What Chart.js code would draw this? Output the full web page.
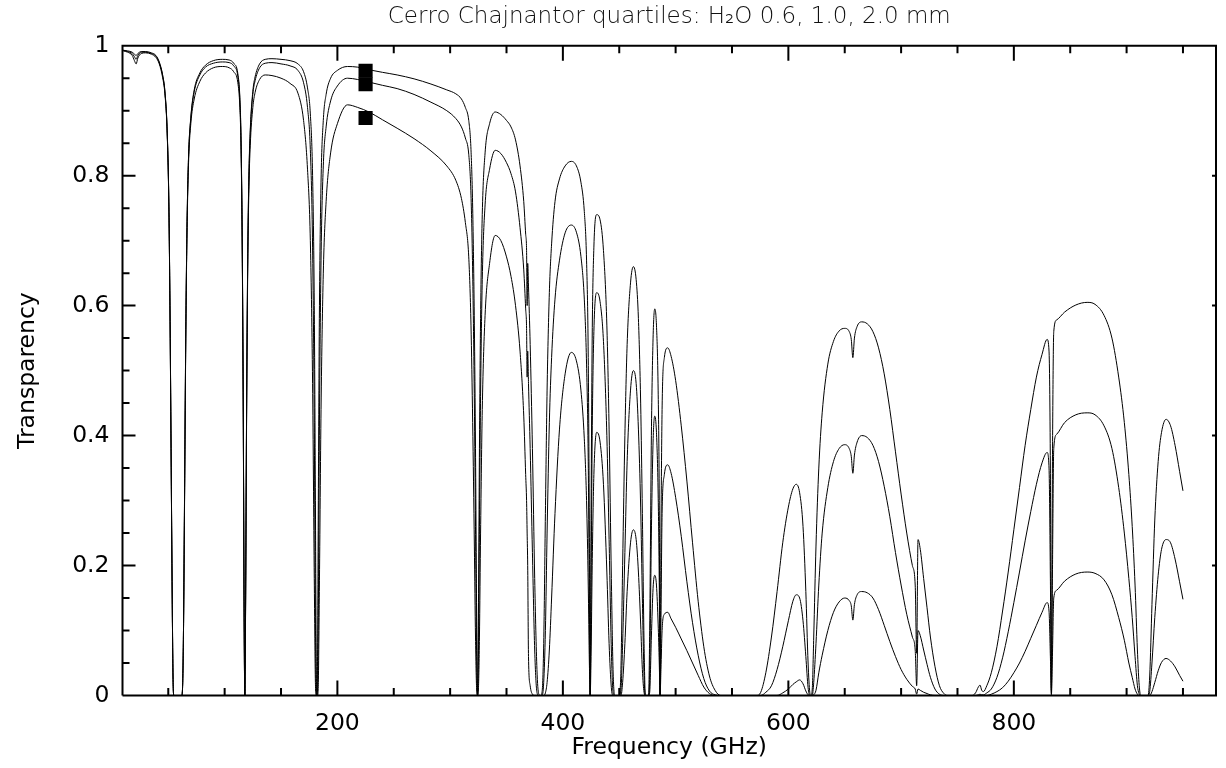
<!DOCTYPE html>
<html><head><meta charset="utf-8">
<script src="https://cdn.jsdelivr.net/npm/chart.js@4.4.1/dist/chart.umd.min.js"></script>
<style>html,body{margin:0;padding:0;background:#fff;} canvas{display:block;}</style>
</head><body>
<canvas id="c" width="1226" height="768"></canvas>
<script>
const titleText = 'Cerro Chajnantor quartiles: H\u2082O 0.6, 1.0, 2.0 mm';
const xTitle = 'Frequency (GHz)';
const yTitle = 'Transparency';
const xTickValues = [200, 400, 600, 800];
const xTickLabels = ['200', '400', '600', '800'];
const yTickValues = [0, 0.2, 0.4, 0.6, 0.8, 1];
const yTickLabels = ['0', '0.2', '0.4', '0.6', '0.8', '1'];

const freq = [
  10, 14, 18, 20, 21.5, 23, 26, 30, 35, 39,
  42, 45, 47, 49, 50.5, 51.5, 52.5, 53.5, 54.3, 55,
  62, 62.8, 63.5, 64.5, 65.5, 66.6, 68, 70, 73, 78,
  83, 90, 98, 104, 108, 111.7, 113.5, 114.5, 115.5, 116.5,
  117.3, 117.9, 118.5, 119.5, 120.5, 121.5, 122.7, 125, 127, 131,
  136, 142, 150, 158, 165, 170, 173.5, 176, 178, 179.5,
  180.5, 181.2, 181.8, 182.4, 183.1, 184, 185.5, 187.5, 190, 194,
  200, 209, 218, 228, 240, 253, 268, 283, 297, 305,
  310, 313.5, 316.5, 318.5, 320, 321.5, 322.5, 323.5, 324.3, 325.1,
  326, 327, 328.5, 331, 335, 340, 345, 350, 354, 358,
  362, 365.3, 367, 367.8, 368.3, 368.8, 369.5, 371, 373, 375,
  377, 378.5, 380, 381.5, 383, 384.5, 386, 388, 390, 393,
  397, 402, 407.5, 412, 416, 419, 421, 422.5, 423.5, 424.2,
  425, 426, 427.5, 430, 433, 436, 439, 441, 443, 444.5,
  446, 450, 451.5, 453, 455, 457, 460, 462.5, 465, 467,
  469, 470.5, 472, 473.2, 476, 477, 478.5, 480, 481.5, 483,
  484.5, 485.5, 486.2, 487, 488, 490, 493, 496, 500, 505,
  510, 515, 520, 525, 530, 535, 540, 572, 575.5, 580,
  585, 590, 595, 600, 604, 607, 610, 613, 615.5, 617.5,
  619, 620, 621.2, 622.5, 624.5, 627, 630, 635, 640, 645,
  650, 654, 655.8, 657.2, 658.6, 661, 665, 670, 675, 680,
  685, 690, 695, 700, 705, 710, 712.5, 713.8, 715, 717,
  720, 723, 726, 730, 734, 738, 741, 763, 766, 768.5,
  770, 771.5, 773, 776, 780, 785, 790, 795, 800, 805,
  810, 815, 820, 825, 829.5, 831.2, 832.4, 833.3, 834.2, 835.4,
  838, 845, 855, 865, 872, 880, 887, 893, 898, 902,
  905, 907.5, 909.6, 911, 912.5, 919, 920.5, 922.5, 925, 928,
  931, 935, 939, 943, 947, 950
];
const trans06 = [
  .993, .992, .990, .987, .985, .988, .991, .991, .989, .985,
  .975, .955, .930, .870, .760, .600, .380, .150, .020, 0,
  0, .02, .10, .32, .55, .72, .83, .89, .932, .958,
  .970, .977, .979, .978, .973, .957, .920, .860, .720, .450,
  .12, 0, .12, .45, .68, .80, .87, .93, .952, .972,
  .979, .980, .979, .977, .972, .960, .935, .895, .80, .60,
  .30, .06, 0, .06, .30, .58, .79, .885, .925, .95,
  .962, .968, .967, .963, .959, .955, .949, .941, .932, .926,
  .918, .905, .885, .84, .75, .57, .38, .13, 0, .13,
  .38, .58, .74, .835, .88, .898, .894, .885, .875, .855,
  .815, .76, .71, .685, .60, .665, .63, .54, .38, .18,
  .04, .003, 0, .005, .08, .28, .47, .62, .695, .76,
  .795, .815, .822, .815, .79, .745, .67, .52, .25, 0,
  .28, .55, .69, .74, .732, .685, .57, .41, .18, .04,
  0, 0, .04, .20, .40, .54, .635, .66, .64, .58,
  .45, .28, .08, 0, 0, .10, .40, .55, .595, .57,
  .47, .30, 0, .25, .44, .52, .535, .522, .485, .415,
  .33, .235, .145, .075, .03, .008, 0, 0, .005, .035,
  .09, .16, .235, .29, .318, .325, .312, .26, .16, .05,
  .005, 0, .01, .09, .23, .35, .435, .51, .545, .561,
  .565, .56, .548, .52, .55, .568, .575, .572, .56, .535,
  .495, .44, .375, .31, .25, .20, .17, .065, .24, .225,
  .18, .135, .09, .045, .015, .003, 0, 0, .004, .013,
  .016, .008, .006, .015, .035, .075, .13, .19, .255, .32,
  .385, .44, .49, .525, .548, .53, .35, .008, .35, .56,
  .578, .59, .601, .605, .602, .585, .55, .49, .42, .34,
  .26, .17, .07, .02, 0, 0, .03, .14, .27, .36,
  .405, .425, .415, .385, .345, .315
];
const trans10 = [
  .993, .991, .988, .983, .979, .985, .990, .990, .988, .984,
  .974, .954, .929, .869, .759, .600, .380, .150, .020, 0,
  0, .02, .10, .32, .55, .72, .83, .888, .929, .955,
  .967, .973, .975, .974, .969, .953, .916, .856, .716, .445,
  .118, 0, .118, .445, .676, .795, .865, .925, .946, .966,
  .973, .974, .972, .969, .962, .943, .905, .84, .69, .42,
  .12, .01, 0, .01, .12, .40, .67, .815, .875, .915,
  .938, .95, .948, .944, .939, .934, .925, .913, .90, .888,
  .875, .858, .833, .77, .65, .45, .26, .06, 0, .06,
  .26, .46, .64, .755, .81, .839, .834, .82, .803, .775,
  .72, .655, .595, .565, .49, .53, .48, .38, .22, .07,
  .005, 0, 0, 0, .02, .10, .25, .42, .52, .61,
  .67, .712, .724, .713, .676, .61, .51, .36, .14, 0,
  .16, .40, .56, .62, .606, .545, .40, .24, .07, .005,
  0, 0, .008, .08, .22, .36, .47, .50, .48, .41,
  .29, .15, .03, 0, 0, .03, .25, .39, .43, .405,
  .31, .17, 0, .12, .28, .34, .355, .342, .305, .245,
  .175, .112, .062, .026, .007, .001, 0, 0, 0, .005,
  .015, .04, .075, .115, .145, .155, .15, .115, .06, .012,
  0, 0, 0, .02, .08, .17, .25, .32, .36, .38,
  .386, .38, .368, .342, .37, .39, .40, .397, .385, .36,
  .322, .275, .22, .17, .125, .09, .07, .015, .10, .092,
  .07, .048, .028, .01, .002, 0, 0, 0, 0, .001,
  .002, .001, .001, .004, .01, .028, .058, .098, .143, .19,
  .238, .283, .325, .358, .374, .35, .18, .003, .18, .38,
  .402, .42, .432, .435, .432, .415, .38, .32, .25, .18,
  .12, .06, .015, .003, 0, 0, .006, .05, .12, .185,
  .225, .24, .235, .21, .175, .148
];
const trans20 = [
  .992, .990, .985, .977, .972, .981, .988, .989, .987, .982,
  .972, .951, .926, .866, .755, .595, .375, .148, .020, 0,
  0, .02, .10, .31, .54, .71, .82, .88, .918, .945,
  .958, .966, .968, .966, .960, .943, .905, .845, .705, .435,
  .112, 0, .112, .432, .66, .778, .846, .905, .928, .948,
  .955, .954, .950, .942, .927, .885, .81, .70, .48, .18,
  .02, 0, 0, 0, .02, .16, .44, .65, .76, .835,
  .88, .909, .905, .898, .886, .873, .857, .838, .815, .793,
  .765, .728, .675, .57, .42, .23, .09, .01, 0, .01,
  .09, .25, .44, .585, .665, .708, .70, .675, .645, .60,
  .53, .43, .34, .30, .25, .20, .06, .015, .002, 0,
  0, 0, 0, 0, 0, .004, .02, .07, .15, .28,
  .41, .495, .528, .515, .47, .395, .30, .17, .05, 0,
  .06, .20, .34, .405, .39, .325, .19, .08, .012, 0,
  0, 0, 0, .02, .08, .16, .235, .255, .24, .19,
  .11, .04, .005, 0, 0, .005, .09, .165, .185, .17,
  .11, .05, 0, .04, .10, .125, .128, .118, .105, .087,
  .069, .05, .031, .013, .003, 0, 0, 0, 0, 0,
  0, 0, .004, .01, .017, .021, .024, .018, .007, .001,
  0, 0, 0, .001, .008, .035, .062, .10, .128, .144,
  .15, .146, .138, .116, .14, .155, .16, .158, .15, .132,
  .108, .083, .06, .04, .025, .014, .01, .002, .01, .008,
  .005, .003, .001, 0, 0, 0, 0, 0, 0, 0,
  0, 0, 0, 0, .002, .006, .012, .022, .035, .05,
  .068, .088, .108, .128, .143, .13, .06, .001, .06, .15,
  .162, .176, .187, .19, .188, .178, .155, .12, .085, .05,
  .028, .01, .002, 0, 0, 0, 0, .006, .02, .038,
  .051, .057, .053, .044, .031, .022
];
const markerFreq = [225, 225, 225];
const markerTrans = [0.9615, 0.9406, 0.8888];

const FONT = 'DejaVu Sans';
const toXY = (xs, ys) => xs.map((f, i) => ({ x: f, y: ys[i] }));
const lineDs = (vals) => ({
  data: toXY(freq, vals), borderColor: '#000', borderWidth: 1, pointRadius: 0,
  fill: false, cubicInterpolationMode: 'monotone', order: 2
});

const framePlugin = {
  id: 'frame',
  afterDatasetsDraw(chart) {
    const { ctx, chartArea: a, scales: { x, y } } = chart;
    ctx.save();
    ctx.strokeStyle = '#000';
    ctx.lineWidth = 2;
    ctx.beginPath();
    ctx.moveTo(a.left, a.bottom); ctx.lineTo(a.left, a.top); ctx.lineTo(a.right, a.top);
    ctx.lineTo(a.right, a.bottom); ctx.lineTo(a.left, a.bottom);
    ctx.stroke();
    ctx.beginPath();
    for (let f = 50; f <= 950; f += 50) {
      const px = x.getPixelForValue(f);
      const L = (f % 200 === 0) ? 15 : 7.5;
      ctx.moveTo(px, a.bottom); ctx.lineTo(px, a.bottom - L);
      ctx.moveTo(px, a.top); ctx.lineTo(px, a.top + L);
    }
    for (let i = 1; i < 20; i++) {
      const py = y.getPixelForValue(i * 0.05);
      const major = i % 4 === 0;
      ctx.moveTo(a.left, py); ctx.lineTo(a.left + (major ? 13 : 7), py);
      if (major) { ctx.moveTo(a.right - 4, py); ctx.lineTo(a.right, py); }
    }
    ctx.stroke();
    ctx.restore();
  }
};

new Chart(document.getElementById('c'), {
  type: 'line',
  data: {
    datasets: [
      lineDs(trans06), lineDs(trans10), lineDs(trans20),
      {
        type: 'scatter', data: toXY(markerFreq, markerTrans), pointStyle: 'rect',
        pointRadius: 10, backgroundColor: '#000', borderColor: '#000', borderWidth: 0, order: 1
      }
    ]
  },
  options: {
    responsive: false, animation: false, devicePixelRatio: 1,
    layout: { padding: { left: 0, right: 2, top: 0, bottom: 0 } },
    plugins: {
      legend: { display: false }, tooltip: { enabled: false },
      title: {
        display: true, text: titleText, fullSize: false, align: 'center', color: '#111',
        font: { family: FONT, size: 23, weight: '200', lineHeight: 1.2 }, padding: { top: 3, bottom: 15.1 }
      }
    },
    scales: {
      x: {
        type: 'linear', min: 9.4, max: 979.3,
        grid: { display: false, drawTicks: false }, border: { display: false },
        afterBuildTicks: s => { s.ticks = xTickValues.map(v => ({ value: v })); },
        ticks: {
          autoSkip: false, maxRotation: 0, padding: 14, color: '#000',
          font: { family: FONT, size: 23.5 },
          callback: v => { const i = xTickValues.indexOf(v); return i >= 0 ? xTickLabels[i] : ''; }
        },
        title: { display: true, text: xTitle, color: '#000', font: { family: FONT, size: 23.5 }, padding: { top: 0, bottom: 6 } },
        afterFit: s => { s.height = 72.5; }
      },
      y: {
        type: 'linear', min: 0, max: 1,
        grid: { display: false, drawTicks: false }, border: { display: false },
        afterBuildTicks: s => { s.ticks = yTickValues.map(v => ({ value: v })); },
        ticks: {
          autoSkip: false, padding: 13, color: '#000',
          font: { family: FONT, size: 23.5 },
          callback: v => { const i = yTickValues.findIndex(t => Math.abs(t - v) < 1e-9); return i >= 0 ? yTickLabels[i] : ''; }
        },
        title: { display: true, text: yTitle, color: '#000', font: { family: FONT, size: 23.5 }, padding: { top: 14, bottom: 0 } },
        afterFit: s => { s.width = 122.5; }
      }
    }
  },
  plugins: [framePlugin]
});
</script>
</body></html>
